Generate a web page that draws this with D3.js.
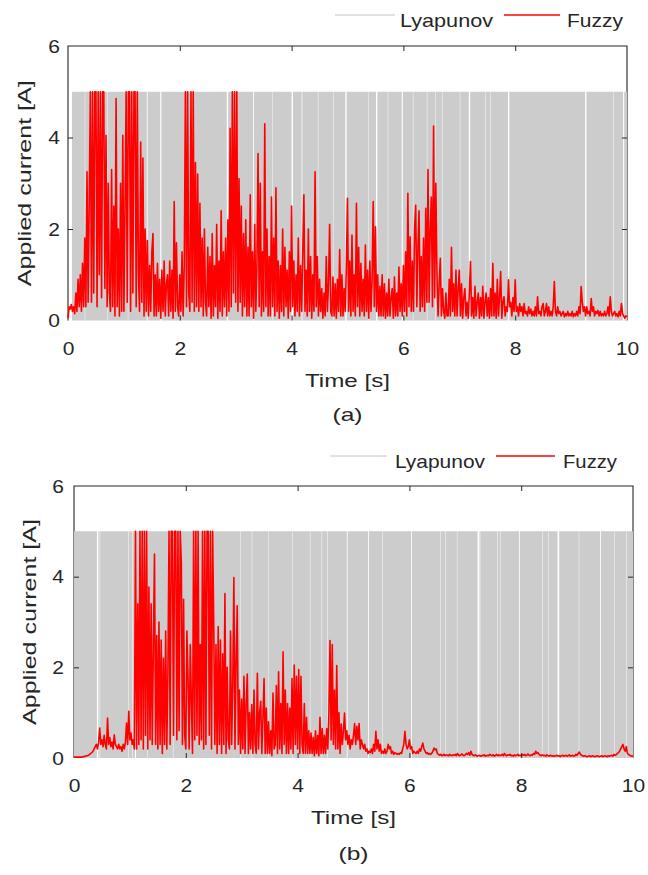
<!DOCTYPE html>
<html>
<head>
<meta charset="utf-8">
<script src="https://cdn.jsdelivr.net/npm/d3@7"></script>
<style>
body { margin: 0; background: #fff; }
text { font-family: "Liberation Sans", Arial, Helvetica, sans-serif; fill: #262626; }
</style>
</head>
<body>
<svg id="chart" width="648" height="875"></svg>
<script>
// ---- data ----
const xTicks = [0, 2, 4, 6, 8, 10];
const yTicks = [0, 2, 4, 6];
const seriesNames = ['Lyapunov', 'Fuzzy'];
const panelTags = ['(a)', '(b)'];
const dt = 0.02;           // sampling step of the fuzzy traces [s]
const lyapLevel = 5;       // Lyapunov current when switched on [A]

// Lyapunov: switched on at start time, off during [t, t + width] gaps
const lyapStartA = 0.07;
const lyapGapsA = [
	[0.30, 0.008], [0.70, 0.008], [1.07, 0.008], [1.41, 0.015], [1.65, 0.02],
	[2.84, 0.025], [3.31, 0.015], [3.65, 0.008], [4.00, 0.025], [4.18, 0.012],
	[4.47, 0.008], [4.74, 0.008], [4.96, 0.025], [5.37, 0.008], [5.51, 0.025],
	[5.72, 0.008], [5.97, 0.02], [6.17, 0.008], [6.42, 0.008], [6.57, 0.008],
	[6.69, 0.008], [7.01, 0.008], [7.17, 0.025], [7.46, 0.008], [7.55, 0.008],
	[7.87, 0.025], [9.25, 0.025], [9.75, 0.008], [9.93, 0.02]
];
const lyapStartB = 0.0;
const lyapGapsB = [
	[0.41, 0.025], [0.46, 0.008], [0.97, 0.008], [1.04, 0.008], [1.09, 0.02],
	[1.31, 0.008], [1.77, 0.008], [2.97, 0.008], [3.18, 0.008], [3.47, 0.008],
	[3.90, 0.008], [4.22, 0.008], [4.43, 0.008], [4.53, 0.008], [4.88, 0.015],
	[5.26, 0.015], [5.51, 0.008], [6.03, 0.015], [6.55, 0.008], [6.64, 0.008],
	[6.85, 0.008], [7.22, 0.03], [7.26, 0.008], [7.57, 0.008], [7.62, 0.008],
	[7.96, 0.015], [8.38, 0.008], [8.48, 0.008], [8.65, 0.03], [9.03, 0.008],
	[9.41, 0.015], [9.66, 0.008], [9.88, 0.008]
];

// Fuzzy current, one value every dt from t = 0 to 10 s
const fuzzyA = [
	0.05, 0.3, 0.25, 0.35, 0.2, 0.3, 0.15, 0.6, 0.2, 0.9,
	0.3, 1.0, 0.2, 1.25, 0.3, 1.8, 0.3, 3.25, 0.4, 2.6,
	5, 0.4, 5, 0.6, 5, 5, 0.3, 5, 1.0, 5,
	0.5, 5, 5, 0.7, 4.05, 0.3, 3.0, 0.6, 0.2, 3.3,
	0.3, 2.5, 0.1, 4.85, 0.3, 2.0, 0.1, 3.0, 0.2, 4.05,
	0.2, 2.5, 5, 0.4, 5, 5, 0.2, 5, 0.6, 5,
	5, 0.3, 5, 1.0, 0.2, 3.9, 0.4, 3.55, 0.1, 2.0,
	0.2, 1.75, 0.1, 1.2, 0.2, 1.5, 1.9, 0.1, 1.0, 0.1,
	1.25, 0.2, 0.9, 0.05, 1.1, 0.2, 1.3, 0.1, 0.8, 1.0,
	0.1, 1.3, 0.2, 1.1, 0.05, 2.6, 0.2, 1.7, 0.3, 0.1,
	1.0, 0.2, 1.5, 0.1, 1.2, 5, 0.3, 5, 0.6, 0.2,
	5, 0.4, 5, 0.2, 3.45, 0.3, 3.2, 0.2, 2.56, 0.3,
	1.8, 0.1, 2.0, 0.4, 0.1, 1.6, 0.3, 1.4, 0.05, 1.9,
	0.1, 1.2, 0.3, 2.1, 0.05, 1.3, 0.2, 2.4, 0.1, 1.5,
	0.3, 1.8, 0.1, 2.2, 0.2, 4.2, 0.3, 5, 0.6, 5,
	0.4, 5, 0.2, 3.1, 0.4, 2.5, 0.1, 1.9, 0.3, 2.2,
	0.1, 1.6, 0.1, 2.75, 0.3, 1.5, 0.05, 2.1, 0.2, 1.2,
	3.65, 0.3, 3.0, 0.1, 1.5, 0.2, 4.3, 0.3, 2.0, 0.1,
	1.4, 0.1, 2.7, 0.3, 1.8, 0.1, 2.9, 0.2, 1.3, 0.05,
	1.2, 0.2, 2.0, 0.1, 1.6, 0.3, 1.1, 0.05, 1.5, 0.2,
	2.5, 0.3, 1.3, 0.1, 1.0, 0.2, 1.8, 0.1, 1.2, 0.2,
	1.5, 2.75, 0.2, 1.1, 0.1, 2.0, 0.2, 1.4, 0.05, 1.0,
	0.2, 3.25, 0.3, 1.4, 0.1, 0.9, 0.2, 0.7, 0.05, 0.6,
	0.1, 1.4, 0.2, 0.8, 2.1, 0.2, 0.1, 0.95, 0.1, 0.8,
	0.05, 0.9, 0.2, 1.55, 0.1, 1.0, 0.1, 0.7, 0.2, 1.2,
	2.67, 0.2, 1.3, 0.1, 1.87, 0.2, 1.0, 0.1, 2.56, 0.3,
	1.6, 0.1, 1.25, 0.2, 0.9, 0.1, 1.65, 0.2, 1.1, 0.05,
	1.3, 0.2, 0.9, 2.6, 0.3, 2.05, 0.2, 1.0, 0.1, 0.75,
	0.1, 1.0, 0.1, 0.8, 0.05, 0.6, 0.1, 0.9, 0.1, 0.5,
	0.7, 0.05, 0.95, 0.1, 0.6, 0.1, 1.17, 0.2, 0.8, 0.1,
	1.2, 0.2, 1.5, 0.1, 2.78, 0.3, 1.83, 0.2, 1.3, 0.2,
	2.0, 2.52, 0.3, 1.6, 2.4, 0.2, 1.4, 0.3, 1.8, 0.2,
	2.45, 0.4, 3.3, 0.4, 2.0, 2.7, 0.3, 4.25, 0.5, 3.0,
	1.03, 0.1, 0.8, 1.36, 0.1, 0.7, 0.2, 0.05, 0.6, 0.1,
	0.1, 0.9, 0.1, 1.6, 0.2, 0.8, 0.1, 1.1, 0.1, 0.7,
	1.1, 0.1, 0.8, 0.05, 0.5, 0.7, 0.1, 0.4, 0.05, 0.6,
	1.29, 0.1, 0.5, 0.05, 0.75, 0.1, 0.4, 0.6, 0.05, 0.5,
	0.1, 0.75, 0.05, 0.4, 0.6, 0.1, 0.5, 0.05, 0.7, 0.1,
	1.25, 0.1, 0.6, 0.05, 0.9, 0.1, 0.5, 1.07, 0.05, 0.4,
	0.52, 0.1, 0.3, 0.2, 0.89, 0.3, 0.4, 0.1, 0.5, 0.2,
	0.89, 0.2, 0.3, 0.1, 0.37, 0.2, 0.3, 0.1, 0.37, 0.15,
	0.2, 0.1, 0.3, 0.15, 0.25, 0.1, 0.2, 0.1, 0.3, 0.1,
	0.52, 0.15, 0.2, 0.1, 0.3, 0.37, 0.1, 0.2, 0.37, 0.1,
	0.3, 0.1, 0.2, 0.1, 0.3, 0.85, 0.2, 0.1, 0.3, 0.15,
	0.2, 0.1, 0.15, 0.2, 0.08, 0.15, 0.1, 0.2, 0.1, 0.15,
	0.1, 0.2, 0.08, 0.15, 0.1, 0.2, 0.1, 0.3, 0.15, 0.74,
	0.4, 0.2, 0.3, 0.1, 0.3, 0.15, 0.2, 0.1, 0.48, 0.2,
	0.3, 0.1, 0.2, 0.15, 0.22, 0.1, 0.2, 0.1, 0.15, 0.1,
	0.2, 0.1, 0.15, 0.3, 0.1, 0.52, 0.2, 0.1, 0.15, 0.2,
	0.1, 0.15, 0.08, 0.2, 0.1, 0.37, 0.15, 0.1, 0.05, 0.1,
	0.08
];
const fuzzyB = [
	0.02, 0.02, 0.02, 0.02, 0.02, 0.02, 0.02, 0.02, 0.03, 0.03,
	0.04, 0.05, 0.05, 0.06, 0.08, 0.1, 0.12, 0.15, 0.2, 0.25,
	0.3, 0.2, 0.35, 0.66, 0.3, 0.4, 0.25, 0.5, 0.3, 0.2,
	0.88, 0.3, 0.45, 0.25, 0.35, 0.2, 0.51, 0.3, 0.25, 0.2,
	0.3, 0.2, 0.25, 0.15, 0.3, 0.2, 0.35, 0.77, 0.3, 1.03,
	0.4, 0.55, 0.3, 0.4, 0.2, 5, 0.2, 3.4, 0.3, 5,
	0.4, 5, 0.2, 5, 0.5, 5, 0.2, 3.77, 0.4, 3.4,
	0.3, 2.5, 4.5, 0.3, 2.7, 0.2, 3.0, 0.3, 2.6, 0.1,
	2.2, 0.3, 2.8, 0.2, 1.9, 5, 0.3, 5, 5, 0.5,
	5, 5, 0.4, 5, 0.6, 5, 4.3, 0.3, 3.5, 0.5,
	0.2, 2.8, 1.76, 0.2, 2.5, 1.21, 0.1, 5, 0.4, 5,
	0.5, 5, 0.3, 2.5, 0.4, 5, 0.2, 5, 0.3, 5,
	5, 0.5, 5, 0.2, 5, 2.92, 0.3, 2.5, 0.1, 2.9,
	0.3, 2.6, 0.1, 2.3, 0.3, 3.63, 0.1, 2.0, 0.4, 0.2,
	2.8, 0.3, 1.6, 3.98, 0.2, 2.2, 3.36, 0.3, 1.5, 0.1,
	1.3, 0.2, 1.8, 0.1, 1.2, 1.85, 0.1, 1.0, 0.2, 1.18,
	0.1, 1.5, 0.3, 0.1, 1.87, 0.2, 1.0, 1.25, 0.1, 0.9,
	1.75, 0.1, 1.1, 0.1, 0.8, 0.1, 0.6, 0.05, 1.43, 0.2,
	0.3, 1.6, 0.1, 1.9, 0.2, 1.2, 0.1, 2.34, 0.3, 1.5,
	0.1, 1.2, 0.1, 1.1, 0.2, 1.75, 0.1, 2.05, 0.3, 1.8,
	0.2, 1.95, 0.1, 1.8, 0.3, 0.1, 1.2, 0.1, 0.9, 0.1,
	0.6, 0.1, 0.55, 0.1, 0.45, 0.05, 0.6, 0.1, 0.5, 0.05,
	0.9, 0.1, 0.65, 0.1, 0.5, 0.1, 0.65, 0.2, 1.0, 2.59,
	0.4, 2.5, 0.3, 1.5, 0.2, 2.04, 0.2, 1.0, 0.1, 0.75,
	0.3, 0.6, 0.99, 0.4, 0.6, 0.3, 0.5, 0.2, 0.4, 0.3,
	0.5, 0.76, 0.3, 0.7, 0.4, 0.76, 0.2, 0.4, 0.3, 0.2,
	0.3, 0.15, 0.2, 0.1, 0.15, 0.12, 0.2, 0.1, 0.3, 0.15,
	0.59, 0.2, 0.4, 0.15, 0.3, 0.1, 0.15, 0.1, 0.2, 0.1,
	0.15, 0.3, 0.2, 0.25, 0.1, 0.15, 0.08, 0.12, 0.1, 0.08,
	0.1, 0.08, 0.12, 0.1, 0.2, 0.3, 0.59, 0.3, 0.2, 0.25,
	0.4, 0.2, 0.25, 0.1, 0.15, 0.12, 0.1, 0.15, 0.1, 0.2,
	0.15, 0.25, 0.33, 0.2, 0.15, 0.1, 0.12, 0.08, 0.1, 0.08,
	0.1, 0.15, 0.22, 0.18, 0.2, 0.1, 0.08, 0.06, 0.08, 0.05,
	0.06, 0.08, 0.05, 0.07, 0.06, 0.05, 0.08, 0.06, 0.05, 0.07,
	0.06, 0.08, 0.05, 0.1, 0.06, 0.05, 0.07, 0.09, 0.06, 0.05,
	0.07, 0.1, 0.08, 0.12, 0.06, 0.15, 0.08, 0.06, 0.05, 0.07,
	0.05, 0.04, 0.06, 0.05, 0.04, 0.06, 0.05, 0.07, 0.04, 0.05,
	0.06, 0.05, 0.08, 0.06, 0.05, 0.07, 0.04, 0.06, 0.08, 0.05,
	0.07, 0.05, 0.06, 0.08, 0.05, 0.1, 0.06, 0.05, 0.07, 0.06,
	0.08, 0.05, 0.06, 0.04, 0.07, 0.05, 0.06, 0.08, 0.05, 0.06,
	0.05, 0.07, 0.06, 0.08, 0.05, 0.06, 0.09, 0.06, 0.05, 0.07,
	0.06, 0.1, 0.08, 0.15, 0.1, 0.12, 0.08, 0.06, 0.05, 0.07,
	0.05, 0.06, 0.04, 0.07, 0.05, 0.04, 0.06, 0.05, 0.04, 0.05,
	0.04, 0.05, 0.06, 0.04, 0.05, 0.03, 0.05, 0.06, 0.04, 0.05,
	0.06, 0.04, 0.05, 0.07, 0.04, 0.05, 0.06, 0.04, 0.05, 0.08,
	0.06, 0.1, 0.13, 0.08, 0.06, 0.05, 0.04, 0.05, 0.04, 0.03,
	0.04, 0.05, 0.03, 0.04, 0.05, 0.04, 0.03, 0.04, 0.05, 0.04,
	0.03, 0.04, 0.05, 0.03, 0.04, 0.05, 0.04, 0.03, 0.05, 0.04,
	0.05, 0.06, 0.04, 0.08, 0.06, 0.07, 0.1, 0.12, 0.15, 0.2,
	0.25, 0.3, 0.2, 0.15, 0.25, 0.1, 0.08, 0.06, 0.05, 0.04,
	0.05
];

// ---- layout ----
const colors = { lyap: '#cccccc', fuzzy: '#ff0000', axis: '#262626', legendLyap: '#c4c4c4' };
const svg = d3.select('#chart');
const tickStretch = 1.2;

const panels = [
	{
		left: 68, right: 627, top: 46, bottom: 320.5,
		fuzzy: fuzzyA, lyapStart: lyapStartA, lyapGaps: lyapGapsA, tag: panelTags[0],
		xLabelBase: 355, yLabelEnd: 60, titleBase: 386.5, tagBase: 421,
		yTitleX: 31, legendY: 15, legendText: 26.5,
		legend: [335, 395, 400, 93, 504, 560, 567, 56]
	},
	{
		left: 74, right: 633, top: 486, bottom: 758,
		fuzzy: fuzzyB, lyapStart: lyapStartB, lyapGaps: lyapGapsB, tag: panelTags[1],
		xLabelBase: 792, yLabelEnd: 64, titleBase: 824, tagBase: 860,
		yTitleX: 36, legendY: 456, legendText: 467.5,
		legend: [330, 387, 395, 90, 496, 555, 563, 54]
	}
];

panels.forEach(p => {
	const x = d3.scaleLinear().domain([0, 10]).range([p.left, p.right]);
	const y = d3.scaleLinear().domain([0, 6]).range([p.bottom, p.top]);
	const g = svg.append('g');

	// axes box (under the data, as in the original)
	g.append('path')
		.attr('d', `M${x(0)},${y(0)}V${y(6)}H${x(10)}V${y(0)}`)
		.attr('fill', 'none')
		.attr('stroke', colors.axis)
		.attr('stroke-width', 1.1);

	// Lyapunov bang-bang current
	const lyap = [[p.lyapStart, lyapLevel]];
	p.lyapGaps.forEach(([t, w]) => { lyap.push([t, 0], [t + w, lyapLevel]); });
	lyap.push([10, lyapLevel]);
	const lyapArea = d3.area()
		.curve(d3.curveStepAfter)
		.x(d => x(d[0]))
		.y0(y(0))
		.y1(d => y(d[1]));
	g.append('path').datum(lyap)
		.attr('d', lyapArea)
		.attr('fill', colors.lyap);

	// Fuzzy current
	const fuzzyLine = d3.line()
		.x((d, i) => x(i * dt))
		.y(d => y(d));
	g.append('path').datum(p.fuzzy)
		.attr('d', fuzzyLine)
		.attr('fill', 'none')
		.attr('stroke', colors.fuzzy)
		.attr('stroke-width', 1.6)
		.attr('stroke-linejoin', 'round');

	// inward tick marks, on top of the data
	const inner = [2, 4, 6, 8];
	const tickAxes = [
		[d3.axisTop(x).tickValues(inner), `translate(0,${y(6)})`],
		[d3.axisBottom(x).tickValues(inner), `translate(0,${y(0)})`],
		[d3.axisLeft(y).tickValues([2, 4]), `translate(${x(0)},0)`],
		[d3.axisRight(y).tickValues([2, 4]), `translate(${x(10)},0)`]
	];
	tickAxes.forEach(([ax, tr]) => {
		g.append('g').attr('transform', tr)
			.call(ax.tickSize(-5).tickFormat(''))
			.call(a => a.select('.domain').remove())
			.selectAll('line').attr('stroke', colors.axis);
	});

	// tick labels
	g.append('g').attr('transform', `translate(0,${y(0)})`)
		.call(d3.axisBottom(x).tickValues(xTicks).tickSize(0).tickFormat(d3.format('d')))
		.call(a => a.select('.domain').remove())
		.call(a => a.attr('font-family', null).attr('font-size', null))
		.selectAll('text')
			.attr('y', p.xLabelBase - y(0)).attr('dy', 0)
			.attr('transform', `scale(${tickStretch},1)`)
			.style('font-size', '17.5px');
	g.append('g').attr('transform', `translate(${p.yLabelEnd},0)`)
		.call(d3.axisLeft(y).tickValues(yTicks).tickSize(0).tickPadding(0).tickFormat(d3.format('d')))
		.call(a => a.select('.domain').remove())
		.call(a => a.attr('font-family', null).attr('font-size', null))
		.selectAll('text')
			.attr('x', 0).attr('dy', '0.36em')
			.attr('transform', `scale(${tickStretch},1)`)
			.style('font-size', '17.5px');

	// axis titles
	g.append('text')
		.attr('x', (x(0) + x(10)) / 2).attr('y', p.titleBase)
		.attr('text-anchor', 'middle')
		.attr('textLength', 85).attr('lengthAdjust', 'spacingAndGlyphs')
		.style('font-size', '19px')
		.text('Time [s]');
	g.append('text')
		.attr('transform', `translate(${p.yTitleX},${(y(0) + y(6)) / 2}) rotate(-90)`)
		.attr('text-anchor', 'middle')
		.attr('textLength', 206).attr('lengthAdjust', 'spacingAndGlyphs')
		.style('font-size', '19px')
		.text('Applied current [A]');
	g.append('text')
		.attr('x', (x(0) + x(10)) / 2).attr('y', p.tagBase)
		.attr('text-anchor', 'middle')
		.attr('textLength', 30).attr('lengthAdjust', 'spacingAndGlyphs')
		.style('font-size', '19px')
		.text(p.tag);

	// legend
	const L = p.legend;
	g.append('line')
		.attr('x1', L[0]).attr('x2', L[1]).attr('y1', p.legendY).attr('y2', p.legendY)
		.attr('stroke', colors.legendLyap).attr('stroke-width', 1);
	g.append('text')
		.attr('x', L[2]).attr('y', p.legendText)
		.attr('textLength', L[3]).attr('lengthAdjust', 'spacingAndGlyphs')
		.style('font-size', '18.5px')
		.text(seriesNames[0]);
	g.append('line')
		.attr('x1', L[4]).attr('x2', L[5]).attr('y1', p.legendY).attr('y2', p.legendY)
		.attr('stroke', colors.fuzzy).attr('stroke-width', 1.3);
	g.append('text')
		.attr('x', L[6]).attr('y', p.legendText)
		.attr('textLength', L[7]).attr('lengthAdjust', 'spacingAndGlyphs')
		.style('font-size', '18.5px')
		.text(seriesNames[1]);
});
</script>
</body>
</html>
